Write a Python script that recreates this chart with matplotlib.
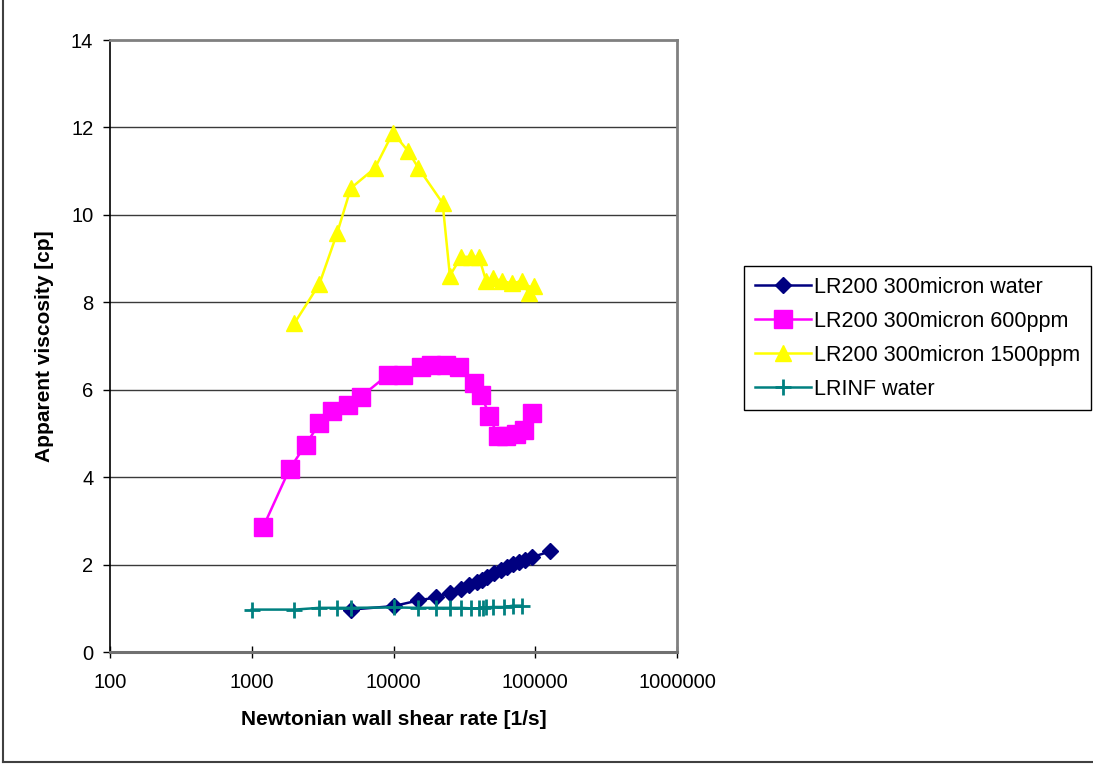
import matplotlib
matplotlib.use("Agg")
import matplotlib.pyplot as plt
from matplotlib.lines import Line2D
from matplotlib.ticker import FixedLocator, FuncFormatter, NullLocator

plt.rcParams['font.family'] = ['Liberation Sans', 'DejaVu Sans']

# shear rate [1/s] and apparent viscosity [cp] for each run
rate_water = [5000, 10000, 15000, 20000, 25000, 30000, 34000, 39000, 42000, 46000,
              51000, 57000, 63000, 70000, 77000, 85000, 95000, 127000]
visc_water = [0.97, 1.05, 1.18, 1.25, 1.36, 1.45, 1.53, 1.60, 1.65, 1.72,
              1.80, 1.88, 1.95, 2.02, 2.06, 2.11, 2.17, 2.30]

rate_600 = [1200, 1850, 2400, 3000, 3700, 4800, 5900, 9100, 11600, 15700, 18400,
            23500, 29200, 36800, 41500, 47500, 54300, 62200, 73200, 83700, 95000]
visc_600 = [2.85, 4.19, 4.74, 5.23, 5.52, 5.65, 5.84, 6.34, 6.34, 6.53, 6.57,
            6.57, 6.53, 6.16, 5.88, 5.41, 4.93, 4.93, 4.98, 5.08, 5.46]

rate_1500 = [2000, 3000, 4000, 5000, 7400, 9900, 12600, 15000, 22200, 25000, 30000,
             35000, 40000, 45000, 50000, 58000, 69000, 80000, 90000, 98000]
visc_1500 = [7.52, 8.42, 9.58, 10.61, 11.07, 11.88, 11.47, 11.07, 10.27, 8.61, 9.04,
             9.04, 9.04, 8.49, 8.55, 8.49, 8.43, 8.49, 8.21, 8.38]

rate_inf = [1000, 2000, 3000, 4000, 5000, 10000, 15000, 20000, 25000, 30000, 35000,
            40000, 42500, 45000, 50000, 60000, 70000, 80000]
visc_inf = [0.97, 0.97, 1.01, 1.01, 1.01, 1.02, 1.01, 1.01, 1.01, 1.01, 1.00,
            1.00, 1.01, 1.02, 1.03, 1.03, 1.06, 1.06]

x_ticks = [100, 1000, 10000, 100000, 1000000]
y_ticks = [0, 2, 4, 6, 8, 10, 12, 14]

W, H = 1093, 764
fig = plt.figure(figsize=(W / 100, H / 100), dpi=100)
ax = fig.add_axes([110 / W, 1 - 652 / H, (677 - 110) / W, (652 - 40) / H])

ax.plot(rate_water, visc_water, color='#000080', lw=1.8, marker='D', ms=8,
        label='LR200 300micron water', zorder=4)
ax.plot(rate_600, visc_600, color='#FF00FF', lw=1.8, marker='s', ms=12.5,
        label='LR200 300micron 600ppm', zorder=3)
ax.plot(rate_1500, visc_1500, color='#FFFF00', lw=1.8, marker='^', ms=12,
        label='LR200 300micron 1500ppm', zorder=3)
ax.plot(rate_inf, visc_inf, color='#008080', lw=1.8, marker='+', ms=11, mew=2,
        label='LRINF water', zorder=5)

ax.set_xscale('log')
ax.set_xlim(100, 1000000)
ax.set_ylim(0, 14)
ax.xaxis.set_major_locator(FixedLocator(x_ticks))
ax.xaxis.set_minor_locator(NullLocator())
ax.xaxis.set_major_formatter(FuncFormatter(lambda v, p: f"{int(round(v))}"))
ax.set_yticks(y_ticks)

for y in y_ticks[1:-1]:
    ax.axhline(y, color='#3a3a3a', lw=1.0, zorder=1)

ax.tick_params(axis='y', direction='out', length=5, width=1, labelsize=14.5, pad=7)
ax.tick_params(axis='x', direction='inout', length=8, width=1, labelsize=14.5, pad=11)

ax.spines['left'].set_color('black')
ax.spines['left'].set_linewidth(1.2)
for side in ('top', 'right'):
    ax.spines[side].set_color('#808080')
    ax.spines[side].set_linewidth(2)
ax.spines['bottom'].set_color('#707070')
ax.spines['bottom'].set_linewidth(2.2)

ax.set_xlabel('Newtonian wall shear rate [1/s]', fontsize=15, fontweight='bold', labelpad=13)
ax.set_ylabel('Apparent viscosity [cp]', fontsize=15, fontweight='bold', labelpad=12)

fig.legend(loc='upper left', bbox_to_anchor=(744 / W, 1 - 266 / H),
           frameon=True, fancybox=False, edgecolor='black', framealpha=1,
           fontsize=15.5, handlelength=2.6, handletextpad=0.15,
           borderpad=0.5, labelspacing=0.6, borderaxespad=0)

# outer chart border
fig.add_artist(Line2D([3 / W, 3 / W], [1 - 762 / H, 1.0], transform=fig.transFigure,
                      color='#404040', lw=1.5))
fig.add_artist(Line2D([3 / W, 1.0], [1 - 762 / H, 1 - 762 / H], transform=fig.transFigure,
                      color='#404040', lw=1.5))

fig.savefig('out.png', dpi=100)
